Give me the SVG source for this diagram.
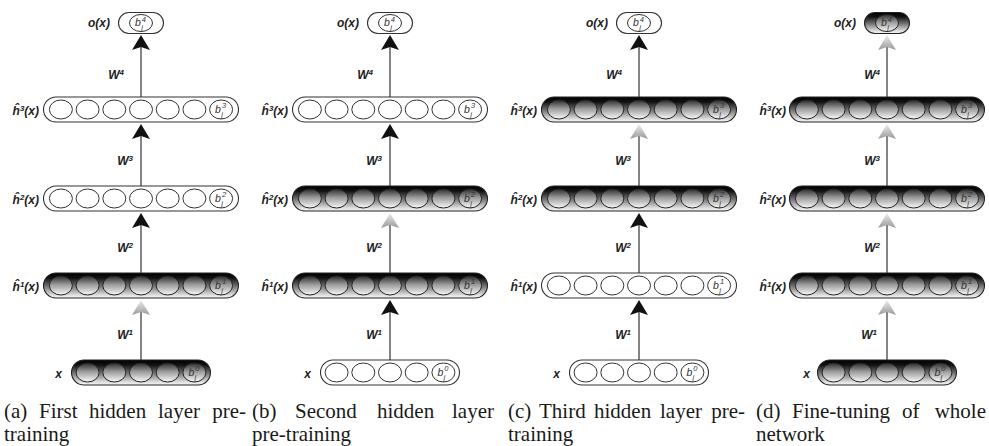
<svg xmlns="http://www.w3.org/2000/svg" xmlns:xlink="http://www.w3.org/1999/xlink" width="989" height="446" viewBox="0 0 989 446">
<style>
.pw{fill:#fff;stroke:#333;stroke-width:1.1}
.ps{fill:url(#gPill);stroke:#222;stroke-width:1.1}
.cw{fill:#fff;stroke:#333;stroke-width:1}
.cs{fill:url(#gCirc);stroke:#222;stroke-width:1}
.lbl{font-family:"Liberation Sans",Arial,sans-serif;font-style:italic;font-weight:bold;font-size:12px;fill:#222}
.sm{font-size:8px}
.bt{font-family:"Liberation Sans",Arial,sans-serif;font-style:italic;font-size:10.5px;fill:#333}
.bs{font-size:7.5px}
.cap{font-family:"Liberation Serif","Times New Roman",serif;font-size:21px;fill:#1a1a1a}
.ln{stroke:#333;stroke-width:1.2;fill:none}
.bk{marker-end:url(#mB)}
.gy{marker-end:url(#mG)}
</style>
<defs>
<linearGradient id="gPill" x1="0" y1="0" x2="0" y2="1">
<stop offset="0" stop-color="#000"/><stop offset="0.2" stop-color="#111"/><stop offset="0.55" stop-color="#7a7a7a"/><stop offset="0.88" stop-color="#dedede"/><stop offset="1" stop-color="#f6f6f6"/>
</linearGradient>
<linearGradient id="gCirc" x1="0" y1="0" x2="0" y2="1">
<stop offset="0" stop-color="#2a2a2a"/><stop offset="0.45" stop-color="#9a9a9a"/><stop offset="1" stop-color="#fafafa"/>
</linearGradient>
<linearGradient id="gArr" x1="0" y1="0" x2="1" y2="0">
<stop offset="0" stop-color="#9a9a9a"/><stop offset="1" stop-color="#ededed"/>
</linearGradient>
<marker id="mB" viewBox="0 -9 15 18" refX="3" refY="0" markerWidth="15" markerHeight="18" markerUnits="userSpaceOnUse" orient="auto"><path d="M15,0 L0,-9 L3,0 L0,9 Z" fill="#111"/></marker>
<marker id="mG" viewBox="0 -9 15 18" refX="3" refY="0" markerWidth="15" markerHeight="18" markerUnits="userSpaceOnUse" orient="auto"><path d="M15,0 L0,-9 L3,0 L0,9 Z" fill="url(#gArr)"/></marker>
<g id="L7w"><rect class="pw" x="-97.5" y="-12.5" width="195" height="25" rx="12.5"/><ellipse class="cw" cx="-80.1" rx="11.5" ry="9.5"/><ellipse class="cw" cx="-53.4" rx="11.5" ry="9.5"/><ellipse class="cw" cx="-26.7" rx="11.5" ry="9.5"/><ellipse class="cw" cx="0" rx="11.5" ry="9.5"/><ellipse class="cw" cx="26.7" rx="11.5" ry="9.5"/><ellipse class="cw" cx="53.4" rx="11.5" ry="9.5"/><ellipse class="cw" cx="80.1" rx="11.5" ry="9.5"/></g>
<g id="L7s"><rect class="ps" x="-97.5" y="-12.5" width="195" height="25" rx="12.5"/><ellipse class="cs" cx="-80.1" rx="11.5" ry="9.5"/><ellipse class="cs" cx="-53.4" rx="11.5" ry="9.5"/><ellipse class="cs" cx="-26.7" rx="11.5" ry="9.5"/><ellipse class="cs" cx="0" rx="11.5" ry="9.5"/><ellipse class="cs" cx="26.7" rx="11.5" ry="9.5"/><ellipse class="cs" cx="53.4" rx="11.5" ry="9.5"/><ellipse class="cs" cx="80.1" rx="11.5" ry="9.5"/></g>
<g id="L5w"><rect class="pw" x="-69.5" y="-12.5" width="139" height="25" rx="12.5"/><ellipse class="cw" cx="-53.4" rx="11.5" ry="9.5"/><ellipse class="cw" cx="-26.7" rx="11.5" ry="9.5"/><ellipse class="cw" cx="0" rx="11.5" ry="9.5"/><ellipse class="cw" cx="26.7" rx="11.5" ry="9.5"/><ellipse class="cw" cx="53.4" rx="11.5" ry="9.5"/></g>
<g id="L5s"><rect class="ps" x="-69.5" y="-12.5" width="139" height="25" rx="12.5"/><ellipse class="cs" cx="-53.4" rx="11.5" ry="9.5"/><ellipse class="cs" cx="-26.7" rx="11.5" ry="9.5"/><ellipse class="cs" cx="0" rx="11.5" ry="9.5"/><ellipse class="cs" cx="26.7" rx="11.5" ry="9.5"/><ellipse class="cs" cx="53.4" rx="11.5" ry="9.5"/></g>
<g id="L1w"><rect class="pw" x="-22.5" y="-10.5" width="45" height="21" rx="10.5"/><ellipse class="cw" cx="0" rx="11.5" ry="8.5"/></g>
<g id="L1s"><rect class="ps" x="-22.5" y="-10.5" width="45" height="21" rx="10.5"/><ellipse class="cs" cx="0" rx="11.5" ry="8.5"/></g>
</defs>

<!-- Panel a -->
<g id="a-out" transform="translate(141,23)"><use href="#L1w"/><text class="lbl" x="-31" y="4" text-anchor="end">o(x)</text><text class="bt" x="-6" y="3">b<tspan class="bs" x="0.8" y="-1.5">4</tspan><tspan class="bs" x="0.2" y="7">j</tspan></text></g>
<g id="a-h3" transform="translate(141,109.5)"><use href="#L7w"/><text class="lbl" x="-102" y="5" text-anchor="end">ĥ<tspan class="sm" dy="-4">3</tspan><tspan dy="4">(x)</tspan></text><text class="bt" x="74.1" y="3">b<tspan class="bs" x="80.9" y="-1.5">3</tspan><tspan class="bs" x="80.3" y="7">j</tspan></text></g>
<g id="a-h2" transform="translate(141,198.5)"><use href="#L7w"/><text class="lbl" x="-102" y="5" text-anchor="end">ĥ<tspan class="sm" dy="-4">2</tspan><tspan dy="4">(x)</tspan></text><text class="bt" x="74.1" y="3">b<tspan class="bs" x="80.9" y="-1.5">2</tspan><tspan class="bs" x="80.3" y="7">j</tspan></text></g>
<g id="a-h1" transform="translate(141,285.5)"><use href="#L7s"/><text class="lbl" x="-102" y="5" text-anchor="end">ĥ<tspan class="sm" dy="-4">1</tspan><tspan dy="4">(x)</tspan></text><text class="bt" x="74.1" y="3">b<tspan class="bs" x="80.9" y="-1.5">1</tspan><tspan class="bs" x="80.3" y="7">j</tspan></text></g>
<g id="a-x" transform="translate(141,372.5)"><use href="#L5s"/><text class="lbl" x="-79" y="5" text-anchor="end">x</text><text class="bt" x="47.4" y="3">b<tspan class="bs" x="54.2" y="-1.5">0</tspan><tspan class="bs" x="53.6" y="7">j</tspan></text></g>

<!-- Panel b -->
<g id="b-out" transform="translate(390,23)"><use href="#L1w"/><text class="lbl" x="-31" y="4" text-anchor="end">o(x)</text><text class="bt" x="-6" y="3">b<tspan class="bs" x="0.8" y="-1.5">4</tspan><tspan class="bs" x="0.2" y="7">j</tspan></text></g>
<g id="b-h3" transform="translate(390,109.5)"><use href="#L7w"/><text class="lbl" x="-102" y="5" text-anchor="end">ĥ<tspan class="sm" dy="-4">3</tspan><tspan dy="4">(x)</tspan></text><text class="bt" x="74.1" y="3">b<tspan class="bs" x="80.9" y="-1.5">3</tspan><tspan class="bs" x="80.3" y="7">j</tspan></text></g>
<g id="b-h2" transform="translate(390,198.5)"><use href="#L7s"/><text class="lbl" x="-102" y="5" text-anchor="end">ĥ<tspan class="sm" dy="-4">2</tspan><tspan dy="4">(x)</tspan></text><text class="bt" x="74.1" y="3">b<tspan class="bs" x="80.9" y="-1.5">2</tspan><tspan class="bs" x="80.3" y="7">j</tspan></text></g>
<g id="b-h1" transform="translate(390,285.5)"><use href="#L7s"/><text class="lbl" x="-102" y="5" text-anchor="end">ĥ<tspan class="sm" dy="-4">1</tspan><tspan dy="4">(x)</tspan></text><text class="bt" x="74.1" y="3">b<tspan class="bs" x="80.9" y="-1.5">1</tspan><tspan class="bs" x="80.3" y="7">j</tspan></text></g>
<g id="b-x" transform="translate(390,372.5)"><use href="#L5w"/><text class="lbl" x="-79" y="5" text-anchor="end">x</text><text class="bt" x="47.4" y="3">b<tspan class="bs" x="54.2" y="-1.5">0</tspan><tspan class="bs" x="53.6" y="7">j</tspan></text></g>

<!-- Panel c -->
<g id="c-out" transform="translate(639,23)"><use href="#L1w"/><text class="lbl" x="-31" y="4" text-anchor="end">o(x)</text><text class="bt" x="-6" y="3">b<tspan class="bs" x="0.8" y="-1.5">4</tspan><tspan class="bs" x="0.2" y="7">j</tspan></text></g>
<g id="c-h3" transform="translate(639,109.5)"><use href="#L7s"/><text class="lbl" x="-102" y="5" text-anchor="end">ĥ<tspan class="sm" dy="-4">3</tspan><tspan dy="4">(x)</tspan></text><text class="bt" x="74.1" y="3">b<tspan class="bs" x="80.9" y="-1.5">3</tspan><tspan class="bs" x="80.3" y="7">j</tspan></text></g>
<g id="c-h2" transform="translate(639,198.5)"><use href="#L7s"/><text class="lbl" x="-102" y="5" text-anchor="end">ĥ<tspan class="sm" dy="-4">2</tspan><tspan dy="4">(x)</tspan></text><text class="bt" x="74.1" y="3">b<tspan class="bs" x="80.9" y="-1.5">2</tspan><tspan class="bs" x="80.3" y="7">j</tspan></text></g>
<g id="c-h1" transform="translate(639,285.5)"><use href="#L7w"/><text class="lbl" x="-102" y="5" text-anchor="end">ĥ<tspan class="sm" dy="-4">1</tspan><tspan dy="4">(x)</tspan></text><text class="bt" x="74.1" y="3">b<tspan class="bs" x="80.9" y="-1.5">1</tspan><tspan class="bs" x="80.3" y="7">j</tspan></text></g>
<g id="c-x" transform="translate(639,372.5)"><use href="#L5w"/><text class="lbl" x="-79" y="5" text-anchor="end">x</text><text class="bt" x="47.4" y="3">b<tspan class="bs" x="54.2" y="-1.5">0</tspan><tspan class="bs" x="53.6" y="7">j</tspan></text></g>

<!-- Panel d -->
<g id="d-out" transform="translate(887,23)"><use href="#L1s"/><text class="lbl" x="-31" y="4" text-anchor="end">o(x)</text><text class="bt" x="-6" y="3">b<tspan class="bs" x="0.8" y="-1.5">4</tspan><tspan class="bs" x="0.2" y="7">j</tspan></text></g>
<g id="d-h3" transform="translate(887,109.5)"><use href="#L7s"/><text class="lbl" x="-101" y="5" text-anchor="end">ĥ<tspan class="sm" dy="-4">3</tspan><tspan dy="4">(x)</tspan></text><text class="bt" x="74.1" y="3">b<tspan class="bs" x="80.9" y="-1.5">3</tspan><tspan class="bs" x="80.3" y="7">j</tspan></text></g>
<g id="d-h2" transform="translate(887,198.5)"><use href="#L7s"/><text class="lbl" x="-101" y="5" text-anchor="end">ĥ<tspan class="sm" dy="-4">2</tspan><tspan dy="4">(x)</tspan></text><text class="bt" x="74.1" y="3">b<tspan class="bs" x="80.9" y="-1.5">2</tspan><tspan class="bs" x="80.3" y="7">j</tspan></text></g>
<g id="d-h1" transform="translate(887,285.5)"><use href="#L7s"/><text class="lbl" x="-101" y="5" text-anchor="end">ĥ<tspan class="sm" dy="-4">1</tspan><tspan dy="4">(x)</tspan></text><text class="bt" x="74.1" y="3">b<tspan class="bs" x="80.9" y="-1.5">1</tspan><tspan class="bs" x="80.3" y="7">j</tspan></text></g>
<g id="d-x" transform="translate(887,372.5)"><use href="#L5s"/><text class="lbl" x="-77" y="5" text-anchor="end">x</text><text class="bt" x="47.4" y="3">b<tspan class="bs" x="54.2" y="-1.5">0</tspan><tspan class="bs" x="53.6" y="7">j</tspan></text></g>

<g id="connectors">
<line class="ln bk" x1="141" y1="97" x2="141" y2="47"/>
<line class="ln bk" x1="141" y1="186" x2="141" y2="136"/>
<line class="ln bk" x1="141" y1="273" x2="141" y2="225"/>
<line class="ln gy" x1="141" y1="360" x2="141" y2="312"/>
<line class="ln bk" x1="390" y1="97" x2="390" y2="47"/>
<line class="ln bk" x1="390" y1="186" x2="390" y2="136"/>
<line class="ln gy" x1="390" y1="273" x2="390" y2="225"/>
<line class="ln bk" x1="390" y1="360" x2="390" y2="312"/>
<line class="ln bk" x1="639" y1="97" x2="639" y2="47"/>
<line class="ln gy" x1="639" y1="186" x2="639" y2="136"/>
<line class="ln bk" x1="639" y1="273" x2="639" y2="225"/>
<line class="ln bk" x1="639" y1="360" x2="639" y2="312"/>
<line class="ln gy" x1="887" y1="97" x2="887" y2="47"/>
<line class="ln gy" x1="887" y1="186" x2="887" y2="136"/>
<line class="ln gy" x1="887" y1="273" x2="887" y2="225"/>
<line class="ln gy" x1="887" y1="360" x2="887" y2="312"/>
<g class="lbl" text-anchor="end">
<text x="124" y="79">W<tspan class="sm" dy="-4">4</tspan></text>
<text x="133" y="165">W<tspan class="sm" dy="-4">3</tspan></text>
<text x="133" y="252">W<tspan class="sm" dy="-4">2</tspan></text>
<text x="133" y="339">W<tspan class="sm" dy="-4">1</tspan></text>
<text x="373" y="79">W<tspan class="sm" dy="-4">4</tspan></text>
<text x="382" y="165">W<tspan class="sm" dy="-4">3</tspan></text>
<text x="382" y="252">W<tspan class="sm" dy="-4">2</tspan></text>
<text x="382" y="339">W<tspan class="sm" dy="-4">1</tspan></text>
<text x="622" y="79">W<tspan class="sm" dy="-4">4</tspan></text>
<text x="631" y="165">W<tspan class="sm" dy="-4">3</tspan></text>
<text x="631" y="252">W<tspan class="sm" dy="-4">2</tspan></text>
<text x="631" y="339">W<tspan class="sm" dy="-4">1</tspan></text>
<text x="880" y="79">W<tspan class="sm" dy="-4">4</tspan></text>
<text x="880" y="165">W<tspan class="sm" dy="-4">3</tspan></text>
<text x="880" y="252">W<tspan class="sm" dy="-4">2</tspan></text>
<text x="877" y="339">W<tspan class="sm" dy="-4">1</tspan></text>
</g>
</g>

<g id="captions" class="cap">
<text y="418"><tspan x="4">(a)</tspan><tspan x="39">First</tspan><tspan x="89">hidden</tspan><tspan x="158">layer</tspan></text>
<text x="246" y="418" text-anchor="end">pre-</text>
<text x="4" y="441">training</text>
<text y="418"><tspan x="252">(b)</tspan><tspan x="295">Second</tspan><tspan x="377">hidden</tspan></text>
<text x="494" y="418" text-anchor="end">layer</text>
<text x="252" y="441">pre-training</text>
<text y="418"><tspan x="508">(c)</tspan><tspan x="539">Third</tspan><tspan x="594">hidden</tspan><tspan x="660">layer</tspan></text>
<text x="745" y="418" text-anchor="end">pre-</text>
<text x="508" y="441">training</text>
<text y="418"><tspan x="756">(d)</tspan><tspan x="792">Fine-tuning</tspan><tspan x="902">of</tspan></text>
<text x="986" y="418" text-anchor="end">whole</text>
<text x="756" y="441">network</text>
</g>
</svg>
